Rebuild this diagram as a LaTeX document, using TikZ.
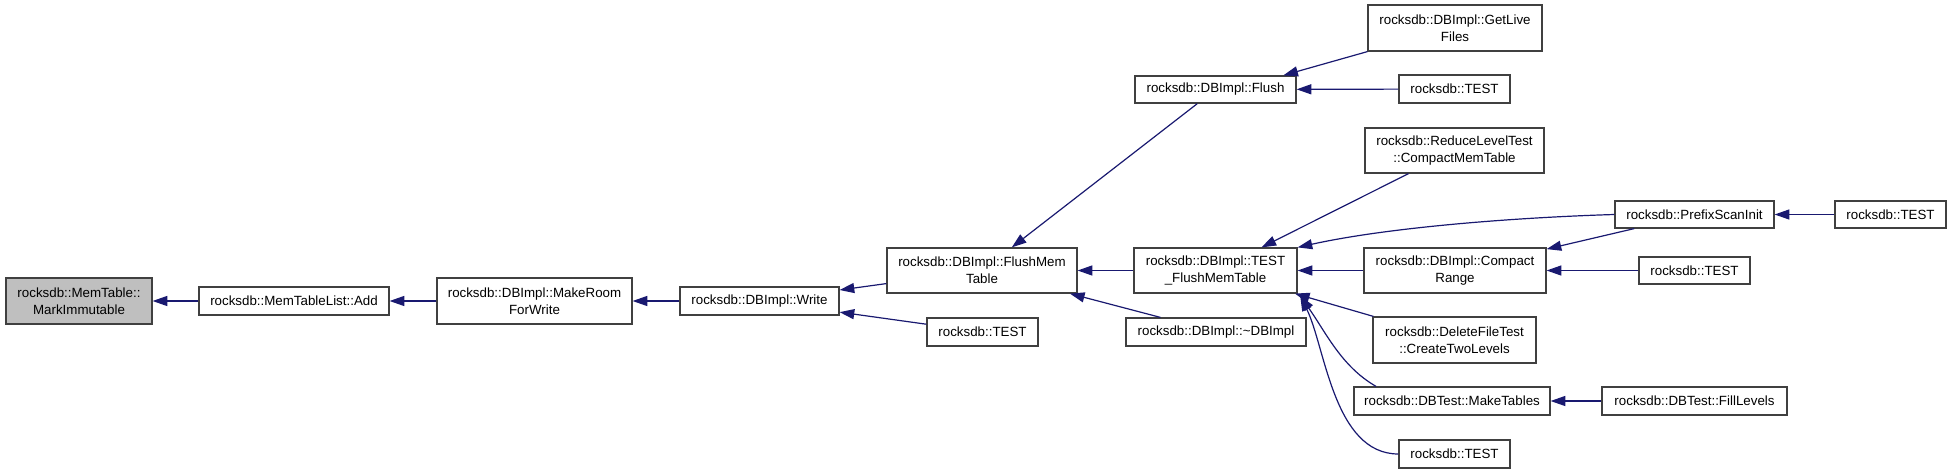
\documentclass[tikz,border=0pt]{standalone}
\usepackage{fontspec}
\setmainfont{Liberation Sans}
\usetikzlibrary{arrows.meta}

\definecolor{edgeblue}{HTML}{191970}
\definecolor{markgray}{HTML}{BFBFBF}

\begin{document}
\begin{tikzpicture}[
    x=0.75pt, y=-0.75pt,
    fn/.style 2 args={draw=black!75, line width=0.9pt, fill=white,
                      inner sep=0pt, align=center,
                      minimum width=#1*0.75pt, minimum height=#2*0.75pt,
                      font=\fontsize{10}{12.75}\selectfont},
    call/.style={draw=edgeblue, line width=0.9pt,
                 {Triangle[length=11pt,width=7.5pt]}-}]
  \useasboundingbox (0,0) rectangle (1952,475);

  \node[fn={146}{46}, fill=markgray] (mark) at (79,301) {rocksdb::MemTable::\\MarkImmutable};
  \node[fn={190}{28}] (add) at (294,301) {rocksdb::MemTableList::Add};
  \node[fn={195}{46}] (room) at (534.5,301) {rocksdb::DBImpl::MakeRoom\\ForWrite};
  \node[fn={159}{28}] (write) at (759.5,301) {rocksdb::DBImpl::Write};
  \node[fn={190}{45}] (flushmem) at (982,270.5) {rocksdb::DBImpl::FlushMem\\Table};
  \node[fn={111}{28}] (writetest) at (982.5,332) {rocksdb::TEST};
  \node[fn={163}{45}] (testflush) at (1215.5,270.5) {rocksdb::DBImpl::TEST\\\_FlushMemTable};
  \node[fn={180}{28}] (dtor) at (1216,332) {rocksdb::DBImpl::\textasciitilde DBImpl};
  \node[fn={161}{27}] (flush) at (1215.5,89.5) {rocksdb::DBImpl::Flush};
  \node[fn={174}{46}] (getlive) at (1455,28) {rocksdb::DBImpl::GetLive\\Files};
  \node[fn={111}{28}] (flushtest) at (1454.5,89) {rocksdb::TEST};
  \node[fn={179}{45}] (compactmem) at (1454.5,150.5) {rocksdb::ReduceLevelTest\\::CompactMemTable};
  \node[fn={182}{45}] (range) at (1455,270.5) {rocksdb::DBImpl::Compact\\Range};
  \node[fn={163}{46}] (twolevels) at (1454.5,340) {rocksdb::DeleteFileTest\\::CreateTwoLevels};
  \node[fn={196}{28}] (tables) at (1452,401) {rocksdb::DBTest::MakeTables};
  \node[fn={111}{28}] (lasttest) at (1454.5,454) {rocksdb::TEST};
  \node[fn={159}{27}] (prefix) at (1694.5,214.5) {rocksdb::PrefixScanInit};
  \node[fn={111}{27}] (prefixtest) at (1890.5,214.5) {rocksdb::TEST};
  \node[fn={111}{27}] (rangetest) at (1694.5,270.5) {rocksdb::TEST};
  \node[fn={185}{28}] (fill) at (1694.5,401) {rocksdb::DBTest::FillLevels};

  % callers, arrow at the callee
  \draw[call] (mark) -- (add);
  \draw[call] (add) -- (room);
  \draw[call] (room) -- (write);
  \draw[call] (write) -- (flushmem);
  \draw[call] (write) -- (writetest);
  \draw[call] (flushmem) -- (flush);
  \draw[call] (flushmem) -- (testflush);
  \draw[call] (flushmem) -- (dtor);
  \draw[call] ([xshift=-10pt]flush.north east) -- (getlive.south west);
  \draw[call] (flush) -- (flushtest);
  \draw[call] (testflush) -- (compactmem);
  \draw[call] (testflush.north east) .. controls +(90,-20) and +(-100,3) .. (prefix.west);
  \draw[call] (testflush) -- (range);
  \draw[call] (testflush) -- (twolevels);
  \draw[call] ([xshift=2pt,yshift=-2pt]testflush.south east)
    .. controls +(25,35) and +(-35,-20) .. ([xshift=17pt]tables.north west);
  \draw[call] ([xshift=2pt,yshift=-2pt]testflush.south east)
    .. controls +(25,50) and +(-65,0) .. (lasttest.west);
  \draw[call] (range) -- (prefix);
  \draw[call] (range) -- (rangetest);
  \draw[call] (prefix) -- (prefixtest);
  \draw[call] (tables) -- (fill);
\end{tikzpicture}
\end{document}
